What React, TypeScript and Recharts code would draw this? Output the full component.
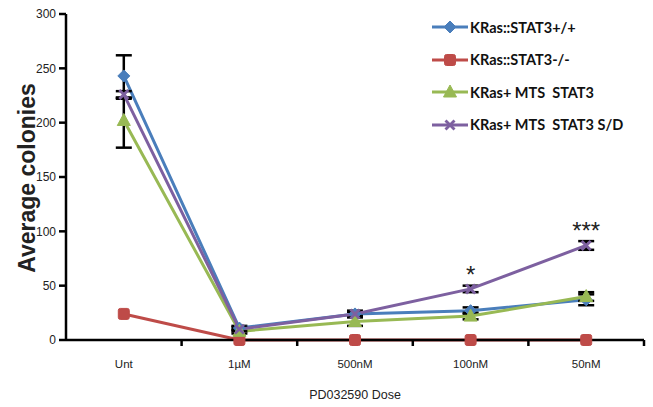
import React from 'react';
import { LineChart, Line, XAxis, YAxis, ErrorBar, LabelList } from 'recharts';

const categories = ['Unt', '1\u00b5M', '500nM', '100nM', '50nM'];
const wildType = [243, 11, 24, 27, 37];
const knockout = [24, 0, 0, 0, 0];
const mtsStat3 = [202, 8, 17, 22, 40];
const mtsStat3SD = [226, 10, 24, 47, 87];
const wildTypeErr = [[20, 19], [2, 2], [3, 3], [3, 3], [5, 5]];
const mtsStat3Err = [[25, 20], [2, 2], [4, 4], [3, 3], [4, 4]];
const mtsStat3SDErr = [[3, 3], [2, 2], [2, 2], [3, 3], [4, 4]];
const significance = ['', '', '', '*', '***'];
const yTicks = [0, 50, 100, 150, 200, 250, 300];

const seriesNames = ['KRas::STAT3+/+', 'KRas::STAT3-/-', 'KRas+ MTS  STAT3', 'KRas+ MTS  STAT3 S/D'];
const colors = ['#4A7EBB', '#BE4B48', '#98B954', '#7D60A0'];

const data = categories.map((c, i) => ({
  cat: c,
  wt: wildType[i],
  ko: knockout[i],
  mts: mtsStat3[i],
  sd: mtsStat3SD[i],
  wtErr: wildTypeErr[i],
  mtsErr: mtsStat3Err[i],
  sdErr: mtsStat3SDErr[i],
  sig: significance[i],
}));

const W = 653;
const H = 407;
const M = { top: 14, right: 9, left: 0, bottom: 0 };
const Y_W = 66;
const X_H = 67;
const plotW = W - M.left - M.right - Y_W;
const halfBand = plotW / categories.length / 2;

const Diamond = (p: any) => {
  const { cx, cy } = p;
  if (cx == null || cy == null) return null;
  const s = 6;
  return <polygon key={p.key} points={`${cx},${cy - s} ${cx + s},${cy} ${cx},${cy + s} ${cx - s},${cy}`} fill={colors[0]} stroke={colors[0]} />;
};
const Square = (p: any) => {
  const { cx, cy } = p;
  if (cx == null || cy == null) return null;
  return <rect key={p.key} x={cx - 5.5} y={cy - 5.5} width={11} height={11} rx={2} fill={colors[1]} stroke={colors[1]} />;
};
const Triangle = (p: any) => {
  const { cx, cy } = p;
  if (cx == null || cy == null) return null;
  return <polygon key={p.key} points={`${cx},${cy - 7} ${cx + 6.5},${cy + 5} ${cx - 6.5},${cy + 5}`} fill={colors[2]} stroke={colors[2]} />;
};
const Cross = (p: any) => {
  const { cx, cy } = p;
  if (cx == null || cy == null) return null;
  const s = 4.5;
  return (
    <g key={p.key} stroke={colors[3]} strokeWidth={2.8}>
      <line x1={cx - s} y1={cy - s} x2={cx + s} y2={cy + s} />
      <line x1={cx - s} y1={cy + s} x2={cx + s} y2={cy - s} />
    </g>
  );
};

const XTick = (p: any) => {
  const { x, y, payload } = p;
  return (
    <g>
      <line x1={x + halfBand} y1={y} x2={x + halfBand} y2={y + 6} stroke="#000" strokeWidth={2.5} />
      <text x={x} y={y + 28} textAnchor="middle" fontSize={11.5} fontFamily="'Liberation Sans Narrow', 'Liberation Sans', Arial, sans-serif" fill="#222">
        {payload.value}
      </text>
    </g>
  );
};

const StarLabel = (p: any) => {
  const { x, y, value } = p;
  if (!value) return null;
  return (
    <text x={x} y={y - 6} textAnchor="middle" fontSize={24} fontFamily="'Liberation Sans', Arial, sans-serif" fill="#222">
      {value}
    </text>
  );
};

const legendIcons = [Diamond, Square, Triangle, Cross];

export default function App() {
  return (
    <div style={{ position: 'absolute', left: 0, top: 0, width: W, height: H, background: '#fff' }}>
      <LineChart width={W} height={H} data={data} margin={M}>
        <XAxis
          dataKey="cat"
          scale="band"
          height={X_H}
          tickSize={0}
          tickMargin={0}
          tickLine={false}
          axisLine={{ stroke: '#000', strokeWidth: 2.5 }}
          tick={<XTick />}
          interval={0}
        />
        <YAxis
          width={Y_W}
          domain={[0, 300]}
          ticks={yTicks}
          tickSize={7}
          tickMargin={3}
          axisLine={{ stroke: '#000', strokeWidth: 2.5 }}
          tickLine={{ stroke: '#000', strokeWidth: 2.5 }}
          tick={{ fontSize: 12, fill: '#222', fontFamily: "'Liberation Sans Narrow', 'Liberation Sans', Arial, sans-serif" }}
        />
        <Line dataKey="wt" stroke={colors[0]} strokeWidth={3} dot={<Diamond />} isAnimationActive={false}>
          <ErrorBar dataKey="wtErr" width={8} strokeWidth={2.5} stroke="#000" />
        </Line>
        <Line dataKey="ko" stroke={colors[1]} strokeWidth={3} dot={<Square />} isAnimationActive={false} />
        <Line dataKey="mts" stroke={colors[2]} strokeWidth={3} dot={<Triangle />} isAnimationActive={false}>
          <ErrorBar dataKey="mtsErr" width={8} strokeWidth={2.5} stroke="#000" />
        </Line>
        <Line dataKey="sd" stroke={colors[3]} strokeWidth={3} dot={<Cross />} isAnimationActive={false}>
          <ErrorBar dataKey="sdErr" width={8} strokeWidth={2.5} stroke="#000" />
          <LabelList dataKey="sig" content={<StarLabel />} />
        </Line>
      </LineChart>
      <div
        style={{
          position: 'absolute',
          left: 27,
          top: 178,
          transform: 'translate(-50%, -50%) rotate(-90deg)',
          whiteSpace: 'nowrap',
          fontFamily: "'Liberation Sans', Arial, sans-serif",
          fontWeight: 'bold',
          fontSize: 23,
          color: '#222',
        }}
      >
        Average colonies
      </div>
      <div
        style={{
          position: 'absolute',
          left: Y_W + plotW / 2,
          top: 395,
          transform: 'translate(-50%, -50%)',
          whiteSpace: 'nowrap',
          fontFamily: "'Liberation Sans', Arial, sans-serif",
          fontSize: 12.5,
          color: '#222',
        }}
      >
        PD032590 Dose
      </div>
      {seriesNames.map((n, i) => {
        const Icon = legendIcons[i];
        const cy = 27 + i * 32.5;
        return (
          <div key={n} style={{ position: 'absolute', left: 430, top: cy - 12, height: 24, display: 'flex', alignItems: 'center' }}>
            <svg width={40} height={24}>
              <line x1={2} y1={12} x2={38} y2={12} stroke={colors[i]} strokeWidth={3} />
              <Icon cx={20} cy={12} />
            </svg>
            <span style={{ fontFamily: "Lato, 'Open Sans', sans-serif", fontWeight: 'bold', fontSize: 14.5, color: '#111', whiteSpace: 'pre' }}>{n}</span>
          </div>
        );
      })}
    </div>
  );
}
